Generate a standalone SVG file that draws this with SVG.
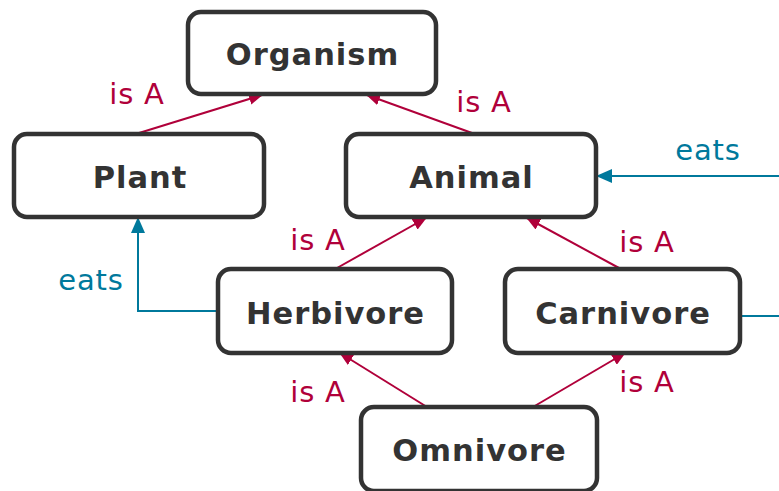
<svg xmlns="http://www.w3.org/2000/svg" width="779" height="491" viewBox="0 0 779 491">
<style>
.node rect{fill:#fff;stroke:#333;stroke-width:4.5}
.node text{font-family:"DejaVu Sans",Verdana,sans-serif;font-weight:bold;font-size:30.5px;letter-spacing:1px;fill:#333;text-anchor:middle}
.isa{stroke:#b0003a;stroke-width:2;fill:none}
.eats{stroke:#00799c;stroke-width:2;fill:none}
.lisa{font-family:"DejaVu Sans",Verdana,sans-serif;font-size:29px;letter-spacing:0.8px;fill:#b0003a;text-anchor:middle}
.leats{font-family:"DejaVu Sans",Verdana,sans-serif;font-size:29px;letter-spacing:0.8px;fill:#00799c;text-anchor:middle}
</style>
<defs>
<marker id="mr" viewBox="0 0 14 12" refX="13" refY="6" markerWidth="14" markerHeight="12" markerUnits="userSpaceOnUse" orient="auto"><path d="M0,0L14,6L0,12z" fill="#b0003a"/></marker>
<marker id="mb" viewBox="0 0 16 14" refX="15" refY="7" markerWidth="16" markerHeight="14" markerUnits="userSpaceOnUse" orient="auto"><path d="M0,0L16,7L0,14z" fill="#00799c"/></marker>
</defs>
<g id="connectors">
<path class="isa" d="M139,133L262,95" marker-end="url(#mr)"/>
<path class="isa" d="M472,133L367,95" marker-end="url(#mr)"/>
<path class="isa" d="M337,268L426,218" marker-end="url(#mr)"/>
<path class="isa" d="M619,268L527,218" marker-end="url(#mr)"/>
<path class="isa" d="M427,407L340,353" marker-end="url(#mr)"/>
<path class="isa" d="M533,407L625,353" marker-end="url(#mr)"/>
<path class="eats" d="M218,311H138V218" marker-end="url(#mb)"/>
<path class="eats" d="M740,316H790"/>
<path class="eats" d="M790,176H597" marker-end="url(#mb)"/>
<text class="lisa" x="137" y="104">is A</text>
<text class="lisa" x="484" y="112">is A</text>
<text class="lisa" x="318" y="250">is A</text>
<text class="lisa" x="647" y="252">is A</text>
<text class="lisa" x="318" y="402">is A</text>
<text class="lisa" x="647" y="392">is A</text>
<text class="leats" x="91" y="290">eats</text>
<text class="leats" x="708" y="160">eats</text>
</g>
<g id="organism" class="node"><rect x="188" y="12" width="248" height="82" rx="13"/><text x="312.5" y="65">Organism</text></g>
<g id="plant" class="node"><rect x="14" y="134" width="250" height="83" rx="13"/><text x="140" y="188">Plant</text></g>
<g id="animal" class="node"><rect x="346" y="134" width="250" height="83" rx="13"/><text x="471.5" y="188">Animal</text></g>
<g id="herbivore" class="node"><rect x="218" y="269" width="234" height="84" rx="13"/><text x="335.5" y="324">Herbivore</text></g>
<g id="carnivore" class="node"><rect x="505" y="269" width="235" height="84" rx="13"/><text x="623" y="324">Carnivore</text></g>
<g id="omnivore" class="node"><rect x="361" y="407" width="236" height="84" rx="13"/><text x="479.5" y="461">Omnivore</text></g>
</svg>
